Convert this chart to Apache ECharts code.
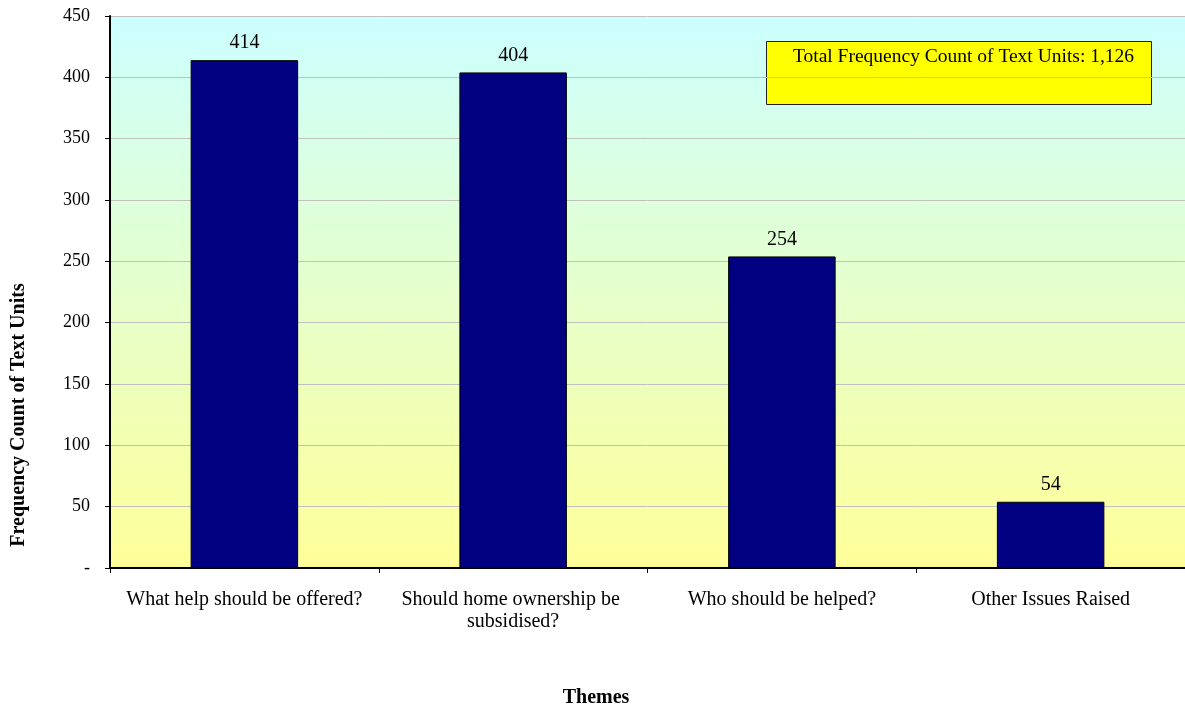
<!DOCTYPE html>
<html>
<head>
<meta charset="utf-8">
<script src="https://cdn.jsdelivr.net/npm/echarts@6/dist/echarts.min.js"></script>
<style>html,body{margin:0;padding:0;background:#fff;}#c{width:1185px;height:708px;}</style>
</head>
<body>
<div id="c"></div>
<script>
const categories = ["What help should be offered?", "Should home ownership be subsidised?", "Who should be helped?", "Other Issues Raised"];
const counts = [414, 404, 254, 54];
const totalLabel = "Total Frequency Count of Text Units: 1,126";
const yAxisTitle = "Frequency Count of Text Units";
const xAxisTitle = "Themes";

const FONT = "'Liberation Serif', 'Times New Roman', serif";
const chart = echarts.init(document.getElementById('c'));
chart.setOption({
  animation: false,
  backgroundColor: '#ffffff',
  textStyle: { fontFamily: FONT },
  grid: {
    left: 110, top: 16, width: 1080, height: 552,
    show: true, borderWidth: 0,
    backgroundColor: new echarts.graphic.LinearGradient(0, 0, 0, 1, [
      { offset: 0, color: '#CCFFFF' },
      { offset: 1, color: '#FFFF99' }
    ])
  },
  xAxis: {
    type: 'category',
    data: categories,
    axisLine: { lineStyle: { color: '#000', width: 2 } },
    axisTick: { show: true, length: 5, lineStyle: { color: '#000' } },
    axisLabel: {
      color: '#000', fontFamily: FONT, fontSize: 20, margin: 21,
      width: 250, overflow: 'break', lineHeight: 22, interval: 0
    }
  },
  yAxis: {
    type: 'value',
    min: 0, max: 450, interval: 50,
    axisLine: { show: true, lineStyle: { color: '#000', width: 2 } },
    axisTick: { show: true, length: 5, lineStyle: { color: '#000' } },
    axisLabel: {
      color: '#000', fontFamily: FONT, fontSize: 18, margin: 20,
      formatter: v => v === 0 ? '-' : String(v)
    },
    splitLine: { show: true, lineStyle: { color: '#C0C0C0', width: 1 } }
  },
  series: [{
    type: 'bar',
    data: counts,
    barWidth: '40%',
    itemStyle: { color: '#000080', borderColor: '#000', borderWidth: 1 },
    label: {
      show: true, position: 'top', distance: 7,
      color: '#000', fontFamily: FONT, fontSize: 20
    }
  }],
  graphic: [{
    type: 'group',
    left: 766, top: 41,
    children: [
      { type: 'rect', shape: { x: 0, y: 0, width: 385, height: 63 },
        style: { fill: '#FFFF00', stroke: '#222', lineWidth: 1 } },
      { type: 'text', x: 197, y: 5,
        style: { text: totalLabel, fill: '#000', font: "19.5px 'Liberation Serif', serif", align: 'center', verticalAlign: 'top' } }
    ]
  }, {
    type: 'text', x: 19, y: 415, rotation: Math.PI / 2,
    style: { text: yAxisTitle, fill: '#000', font: "bold 20px 'Liberation Serif', serif", align: 'center', verticalAlign: 'middle' }
  }, {
    type: 'text', x: 596, y: 698,
    style: { text: xAxisTitle, fill: '#000', font: "bold 20px 'Liberation Serif', serif", align: 'center', verticalAlign: 'middle' }
  }]
});
</script>
</body>
</html>
